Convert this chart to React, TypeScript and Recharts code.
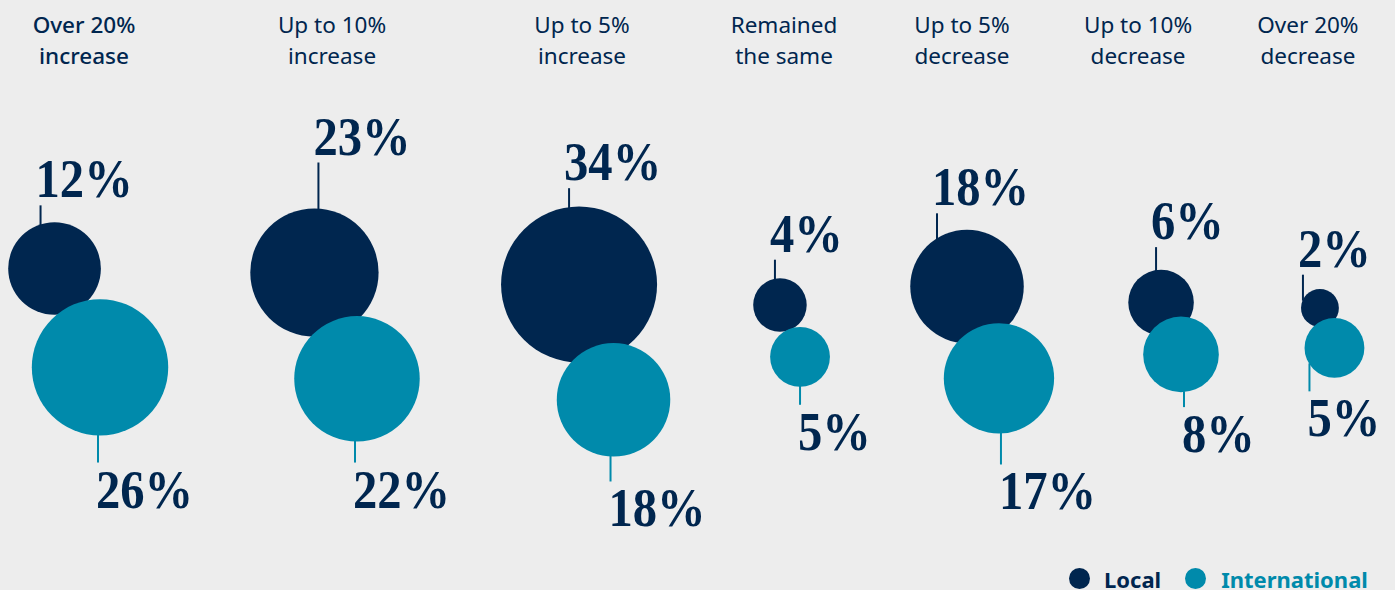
import React from "react";
import {
  ScatterChart,
  Scatter,
  XAxis,
  YAxis,
  ZAxis,
} from "recharts";

const NAVY = "#00264f";
const TEAL = "#008aab";

// column headings (two lines each) and where they sit on the x scale (0-100)
const headingTop = ["Over 20%", "Up to 10%", "Up to 5%", "Remained", "Up to 5%", "Up to 10%", "Over 20%"];
const headingBottom = ["increase", "increase", "increase", "the same", "decrease", "decrease", "decrease"];
const headingX = [6.02, 23.8, 41.72, 56.2, 68.96, 81.58, 93.76];

// shares in %
const localValues = [12, 23, 34, 4, 18, 6, 2];
const intlValues = [26, 22, 18, 5, 17, 8, 5];

// bubble placement (x: 0-100 left to right, y: 0-100 top to bottom)
const localX = [3.91, 22.54, 41.51, 55.91, 69.32, 83.23, 94.62];
const localY = [45.42, 46.1, 48.14, 51.61, 48.47, 51.19, 52.12];
const intlX = [7.17, 25.59, 43.98, 57.35, 71.61, 84.66, 95.66];
const intlY = [62.2, 64.15, 67.71, 60.42, 64.07, 60.0, 58.9];

// leader line styling per bubble
const localTickDx = [-14, 4, -10, -5, -30, -5, -17];
const localLead = [19, 46, 19, 19, 25, 23, 25];
const intlTickDx = [-2, -2, -3, 0, 2, 3, -25];
const intlLead = [27, 21, 25, 18, 31, 15, 27];

const localData = localValues.map((v, i) => ({ x: localX[i], y: localY[i], v, i }));
const intlData = intlValues.map((v, i) => ({ x: intlX[i], y: intlY[i], v, i }));

const MAX_R = 78;

const labelStyle = {
  fontFamily: "'Liberation Serif', serif",
  fontWeight: 700,
  fontSize: 54,
  fill: NAVY,
};

const LocalBubble = (props: any) => {
  const { cx, cy, width, payload } = props;
  const r = width / 2;
  const dx = localTickDx[payload.i];
  const lx = cx + dx;
  const edge = cy - Math.sqrt(Math.max(r * r - dx * dx, 0));
  const top = edge - localLead[payload.i];
  return (
    <g>
      <circle cx={cx} cy={cy} r={r} fill={NAVY} />
      <line x1={lx} x2={lx} y1={edge + 1} y2={top} stroke={NAVY} strokeWidth={2} />
      <text transform={`translate(${lx - 5},${top - 8}) scale(0.9,1)`} style={labelStyle}>
        {payload.v}%
      </text>
    </g>
  );
};

const IntlBubble = (props: any) => {
  const { cx, cy, width, payload } = props;
  const r = width / 2;
  const dx = intlTickDx[payload.i];
  const lx = cx + dx;
  const edge = cy + Math.sqrt(Math.max(r * r - dx * dx, 0));
  const bottom = edge + intlLead[payload.i];
  return (
    <g>
      <circle cx={cx} cy={cy} r={r} fill={TEAL} />
      <line x1={lx} x2={lx} y1={edge - 1} y2={bottom} stroke={TEAL} strokeWidth={2} />
      <text transform={`translate(${lx - 2},${bottom + 45}) scale(0.9,1)`} style={labelStyle}>
        {payload.v}%
      </text>
    </g>
  );
};

const HeadingTick = (props: any) => {
  const { x, payload } = props;
  const idx = headingX.indexOf(payload?.value);
  if (idx < 0) return null;
  return (
    <text
      x={x}
      textAnchor="middle"
      fill={NAVY}
      fontFamily="'Noto Sans', sans-serif"
      fontSize={22.5}
      fontWeight={idx === 0 ? 500 : 400}
    >
      <tspan x={x} y={33}>{headingTop[idx]}</tspan>
      <tspan x={x} y={64}>{headingBottom[idx]}</tspan>
    </text>
  );
};

const dot = (color: string, ml: number) => (
  <span
    style={{
      width: 21,
      height: 21,
      borderRadius: "50%",
      background: color,
      display: "inline-block",
      marginLeft: ml,
    }}
  />
);

export default function App() {
  return (
    <div
      style={{
        position: "absolute",
        top: 0,
        left: 0,
        width: 1395,
        height: 590,
        background: "#ededed",
        overflow: "hidden",
      }}
    >
      <ScatterChart width={1395} height={590} margin={{ top: 0, right: 0, bottom: 0, left: 0 }}>
        <XAxis
          type="number"
          dataKey="x"
          domain={[0, 100]}
          orientation="top"
          height={1}
          ticks={headingX}
          interval={0}
          axisLine={false}
          tickLine={false}
          tick={HeadingTick}
        />
        <YAxis type="number" dataKey="y" domain={[0, 100]} reversed hide />
        <ZAxis type="number" dataKey="v" domain={[0, 34]} range={[0, Math.PI * MAX_R * MAX_R]} />
        <Scatter name="Local" data={localData} shape={<LocalBubble />} isAnimationActive={false} />
        <Scatter name="International" data={intlData} shape={<IntlBubble />} isAnimationActive={false} />
      </ScatterChart>
      <div
        style={{
          position: "absolute",
          left: 1069,
          top: 568,
          display: "flex",
          alignItems: "center",
          fontFamily: "'Noto Sans', sans-serif",
          fontWeight: 700,
          fontSize: 22,
          lineHeight: "20px",
        }}
      >
        {dot(NAVY, 0)}
        <span style={{ color: NAVY, marginLeft: 14 }}>Local</span>
        {dot(TEAL, 24)}
        <span style={{ color: TEAL, marginLeft: 15 }}>International</span>
      </div>
    </div>
  );
}
